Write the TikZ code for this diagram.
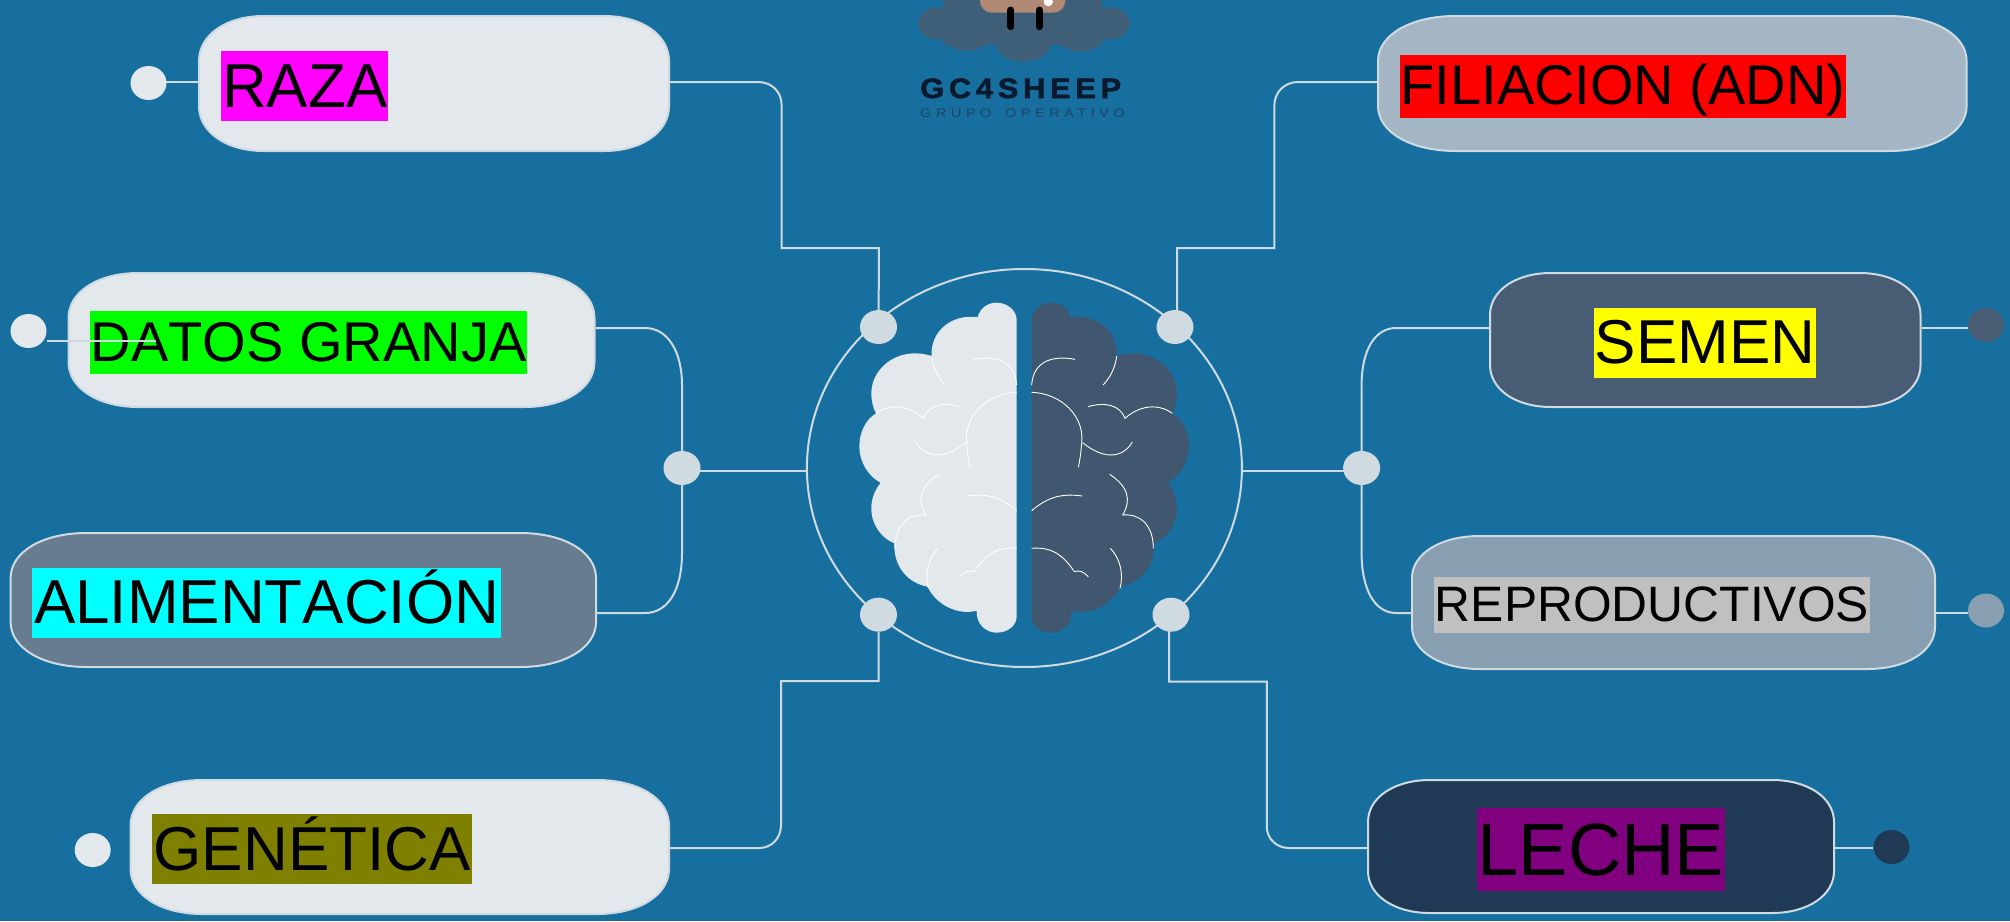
\documentclass[tikz,border=0pt]{standalone}
\usepackage{fontspec}
\setmainfont[Kerning=Off]{Liberation Sans}
\newfontfamily\logobold[FakeStretch=1.1,FakeBold=2,LetterSpace=17]{Liberation Sans Bold}
\newfontfamily\logothin[FakeStretch=1.15,LetterSpace=37]{Liberation Sans}
\usetikzlibrary{shapes.geometric}
\definecolor{bgblue}{HTML}{176FA0}
\definecolor{wirec}{HTML}{CFDAE1}
\definecolor{pale}{HTML}{E3E8EC}
\definecolor{slateA}{HTML}{677C90}
\definecolor{slateB}{HTML}{A4B5C3}
\definecolor{slateC}{HTML}{485D74}
\definecolor{slateD}{HTML}{889FB2}
\definecolor{navy}{HTML}{203A55}
\definecolor{brainD}{HTML}{41576F}
\definecolor{cloudc}{HTML}{3F5F78}
\definecolor{sheepc}{HTML}{B08A74}
\definecolor{logotxt}{HTML}{0A1A2E}
\definecolor{logosub}{HTML}{1D4468}
\definecolor{hlgray}{HTML}{C0C0C0}
\definecolor{hlolive}{HTML}{808000}
\definecolor{hlpurple}{HTML}{800080}
\definecolor{hlmagenta}{HTML}{FF00FF}
\definecolor{hlcyan}{HTML}{00FFFF}
\definecolor{hlgreen}{HTML}{00FF00}
\definecolor{hlred}{HTML}{FF0000}
\definecolor{hlyellow}{HTML}{FFFF00}
\tikzset{
  wire/.style={draw=wirec,line width=2pt},
  pillline/.style={draw=#1,line width=2pt},
  anchorbox/.style={rectangle,inner sep=0pt},
  dot/.style={ellipse,inner sep=0pt,minimum width=36pt,minimum height=34pt},
  jct/.style={ellipse,inner sep=0pt,fill=wirec,minimum width=37pt,minimum height=34pt},
  lbl/.style={rectangle,inner sep=0pt,anchor=north west,text=black,align=center},
  fs/.style={font=\fontsize{#1}{#1}\selectfont},
  wrinkle/.style={draw=white,line width=0.9pt}
}
% name x1 y1 x2 y2 rx ry fill border
\newcommand{\mypill}[9]{%
  \path[pillline=#9,fill=#8]
    ({#2+#6},#3) -- ({#4-#6},#3)
    .. controls ({#4-.42*#6},#3) and (#4,{#3+.42*#7}) .. (#4,{#3+#7})
    -- (#4,{#5-#7})
    .. controls (#4,{#5-.42*#7}) and ({#4-.42*#6},#5) .. ({#4-#6},#5)
    -- ({#2+#6},#5)
    .. controls ({#2+.42*#6},#5) and (#2,{#5-.42*#7}) .. (#2,{#5-#7})
    -- (#2,{#3+#7})
    .. controls (#2,{#3+.42*#7}) and ({#2+.42*#6},#3) .. ({#2+#6},#3) -- cycle;
  \node[anchorbox,minimum width={(#4-#2)*1pt},minimum height={(#5-#3)*1pt}] (#1) at ({(#2+#4)/2},{(#3+#5)/2}) {};
}
\newcommand{\brainhalf}[1]{%
  \fill[#1] (650,180) .. controls (650,150) and (620,128) .. (590,128)
    .. controls (562,128) and (540,145) .. (533,172)
    .. controls (455,160) and (390,215) .. (395,288)
    .. controls (378,283) and (362,280) .. (345,280)
    .. controls (272,280) and (214,335) .. (214,400)
    .. controls (214,425) and (220,445) .. (228,460)
    .. controls (195,480) and (178,520) .. (178,560)
    .. controls (178,605) and (205,650) .. (242,668)
    .. controls (225,690) and (214,715) .. (214,745)
    .. controls (214,795) and (245,835) .. (283,850)
    .. controls (280,920) and (325,970) .. (383,980)
    .. controls (405,1030) and (470,1068) .. (530,1052)
    .. controls (528,1095) and (560,1118) .. (590,1118)
    .. controls (625,1118) and (650,1095) .. (650,1070) -- cycle;
  \draw[wrinkle] (395,288) .. controls (398,320) and (415,355) .. (436,375);
  \draw[wrinkle] (520,298) .. controls (590,285) and (645,305) .. (650,375);
  \draw[wrinkle] (228,460) .. controls (270,430) and (325,435) .. (370,475) .. controls (385,435) and (430,425) .. (480,440);
  \draw[wrinkle] (650,397) .. controls (560,400) and (490,470) .. (500,550) .. controls (502,575) and (505,600) .. (510,622);
  \draw[wrinkle] (348,546) .. controls (380,600) and (440,595) .. (497,548);
  \draw[wrinkle] (416,643) .. controls (360,680) and (350,720) .. (377,765) .. controls (330,760) and (285,790) .. (285,865);
  \draw[wrinkle] (498,708) .. controls (560,700) and (600,710) .. (650,752);
  \draw[wrinkle] (414,865) .. controls (380,900) and (375,950) .. (385,985);
  \draw[wrinkle] (650,865) .. controls (590,860) and (555,885) .. (522,935) .. controls (505,930) and (495,935) .. (480,950);
}
\begin{document}
\begin{tikzpicture}[x=1pt,y=-1pt]
\useasboundingbox[fill=bgblue] (0,0) rectangle (2010,921);

% logo
\begin{scope}[x=0.33333pt,y=-0.33333pt,shift={(2640,0)}]
  \clip (-100,0) rectangle (900,300);
  \fill[cloudc] (170,70) ellipse [x radius=56,y radius=48];
  \fill[cloudc] (260,100) ellipse [x radius=75,y radius=52];
  \fill[cloudc] (430,135) ellipse [x radius=80,y radius=50];
  \fill[cloudc] (600,105) ellipse [x radius=72,y radius=50];
  \fill[cloudc] (690,70) ellipse [x radius=60,y radius=48];
  \fill[cloudc] (190,-10) rectangle (665,135);
  \fill[sheepc,rounded corners=12pt] (300,-80) rectangle (556,38);
  \fill[white] (505,5) circle (14);
  \draw[black,line width=7pt,line cap=round] (393,30) -- (393,80);
  \draw[black,line width=7pt,line cap=round] (478,30) -- (478,80);
\end{scope}
\node[inner sep=0pt,anchor=base west,text=logotxt,font=\fontsize{28}{28}\logobold] (logoA) at (920,98) {GC4SHEEP};
\node[inner sep=0pt,anchor=base west,text=logosub,font=\fontsize{12.5}{12.5}\logothin] (logoB) at (920,117) {GRUPO\hspace{5pt} OPERATIVO};

% pills
\mypill{raza}{199}{16}{669}{151}{65}{45}{pale}{wirec}
\mypill{datos}{68.5}{273}{594.5}{407}{70}{45}{pale}{wirec}
\mypill{alim}{10.6}{533}{596}{667}{76}{45}{slateA}{wirec}
\mypill{gene}{130.6}{780}{669}{914}{72}{45}{pale}{wirec}
\mypill{fili}{1378}{16}{1966.6}{151}{78}{45}{slateB}{wirec}
\mypill{semen}{1490}{273}{1920.5}{407}{61}{42}{slateC}{wirec}
\mypill{repro}{1412}{536}{1935}{669}{68}{42}{slateD}{wirec}
\mypill{leche}{1368}{780}{1834}{913}{62}{42}{navy}{wirec}

% highlighted labels
\node[lbl,fs=62,fill=hlmagenta,minimum width=167pt,text height=56pt,text depth=14pt] (razaT) at (221,51) {RAZA};
\node[lbl,fs=56,fill=hlgreen,minimum width=437pt,text height=50pt,text depth=12.7pt] (datosT) at (90,311) {DATOS GRANJA};
\node[lbl,fs=62,fill=hlcyan,minimum width=469pt,text height=55pt,text depth=14.7pt] (alimT) at (32,568) {ALIMENTACIÓN};
\node[lbl,fs=62,fill=hlolive,minimum width=320pt,text height=56.7pt,text depth=13pt] (geneT) at (152,814) {GENÉTICA};
\node[lbl,fs=56,fill=hlred,minimum width=445.6pt,text height=49.5pt,text depth=13.2pt] (filiT) at (1400,55) {FILIACION (ADN)};
\node[lbl,fs=62,fill=hlyellow,minimum width=222pt,text height=55pt,text depth=14.7pt] (semenT) at (1594,308) {SEMEN};
\node[lbl,fs=50,fill=hlgray,minimum width=436pt,text height=44.7pt,text depth=11.3pt] (reproT) at (1433.7,577) {\resizebox{434pt}{!}{REPRODUCTIVOS}};
\node[lbl,fs=74,fill=hlpurple,minimum width=248.5pt,text height=67pt,text depth=16pt] (lecheT) at (1476.5,808) {LECHE};

% big circle and brain
\node[ellipse,draw=wirec,line width=2pt,inner sep=0pt,minimum width=435pt,minimum height=398pt] (hub) at (1024.4,468) {};
\begin{scope}[x=0.33333pt,y=-0.33333pt,shift={(2400,780)}]
  \brainhalf{pale}
\end{scope}
\begin{scope}[x=0.33333pt,y=-0.33333pt,shift={(2400,780)},shift={(1345,0)},xscale=-1]
  \brainhalf{brainD}
\end{scope}

% junctions
\node[jct] (jTL) at (878.5,327) {};
\node[jct] (jTR) at (1175,327) {};
\node[jct] (jBL) at (878.5,614.7) {};
\node[jct] (jBR) at (1171,614.7) {};
\node[jct] (jL) at (682,468) {};
\node[jct] (jR) at (1361.6,468) {};

% end dots
\node[dot,fill=pale] (dRaza) at (148.5,83) {};
\node[dot,fill=pale] (dDatos) at (28.5,331) {};
\node[dot,fill=pale] (dGene) at (92.7,850) {};
\node[dot,fill=slateC] (dSemen) at (1986,325) {};
\node[dot,fill=slateD] (dRepro) at (1986,610.5) {};
\node[dot,fill=navy] (dLeche) at (1891.5,847) {};

% ports
\coordinate (datosE) at (595.5,328);
\coordinate (alimE) at (597,613);
\coordinate (geneE) at (670,848);
\coordinate (filiW) at (1377,82);
\coordinate (semenW) at (1489,328);
\coordinate (semenE) at (1921.5,328);
\coordinate (reproW) at (1411,613);
\coordinate (reproE) at (1936,613);
\coordinate (lecheW) at (1367,848);
\coordinate (lecheE) at (1835,848);
\coordinate (razaE) at (670,82);
\coordinate (razaW) at (198,82);
\coordinate (razaD) at (166,82);
\coordinate (semenD) at (1968,328);
\coordinate (reproD) at (1968,613);
\coordinate (lecheD) at (1873,848);
\coordinate (datosA) at (47,341);
\coordinate (datosB) at (156,341);
\coordinate (jLp) at (700,470.7);
\coordinate (hubW) at (807,470.7);
\coordinate (jRp) at (1344,471);
\coordinate (hubE) at (1241.7,471);

% connectors
\draw[wire] (razaE) -- (758,82) .. controls (772,82) and (781.6,92) .. (781.6,105) -- (781.6,248) -- (879,248) -- (jTL);
\draw[wire] (datosE) -- (645,328) .. controls (668,328) and (682,352) .. (682,385) -- (jL);
\draw[wire] (alimE) -- (645,613) .. controls (668,613) and (682,590) .. (682,553) -- (jL);
\draw[wire] (geneE) -- (759,848) .. controls (772,848) and (781,838) .. (781,825) -- (781,681) -- (878.5,681) -- (jBL);
\draw[wire] (filiW) -- (1298,82) .. controls (1285,82) and (1274.4,92) .. (1274.4,105) -- (1274.4,248) -- (1177,248) -- (1177,311);
\draw[wire] (semenW) -- (1396,328) .. controls (1375,328) and (1361.6,350) .. (1361.6,385) -- (jR);
\draw[wire] (reproW) -- (1396,613) .. controls (1375,613) and (1361.6,590) .. (1361.6,553) -- (jR);
\draw[wire] (lecheW) -- (1289,848) .. controls (1276,848) and (1266.8,838) .. (1266.8,827) -- (1266.8,681.7) -- (1169,681.7) -- (1169,631);
\draw[wire] (jLp) -- (hubW);
\draw[wire] (jRp) -- (hubE);
\draw[wire] (razaD) -- (razaW);
\draw[wire] (semenE) -- (semenD);
\draw[wire] (reproE) -- (reproD);
\draw[wire] (lecheE) -- (lecheD);
\draw[wire] (datosA) -- (datosB);
\end{tikzpicture}
\end{document}
